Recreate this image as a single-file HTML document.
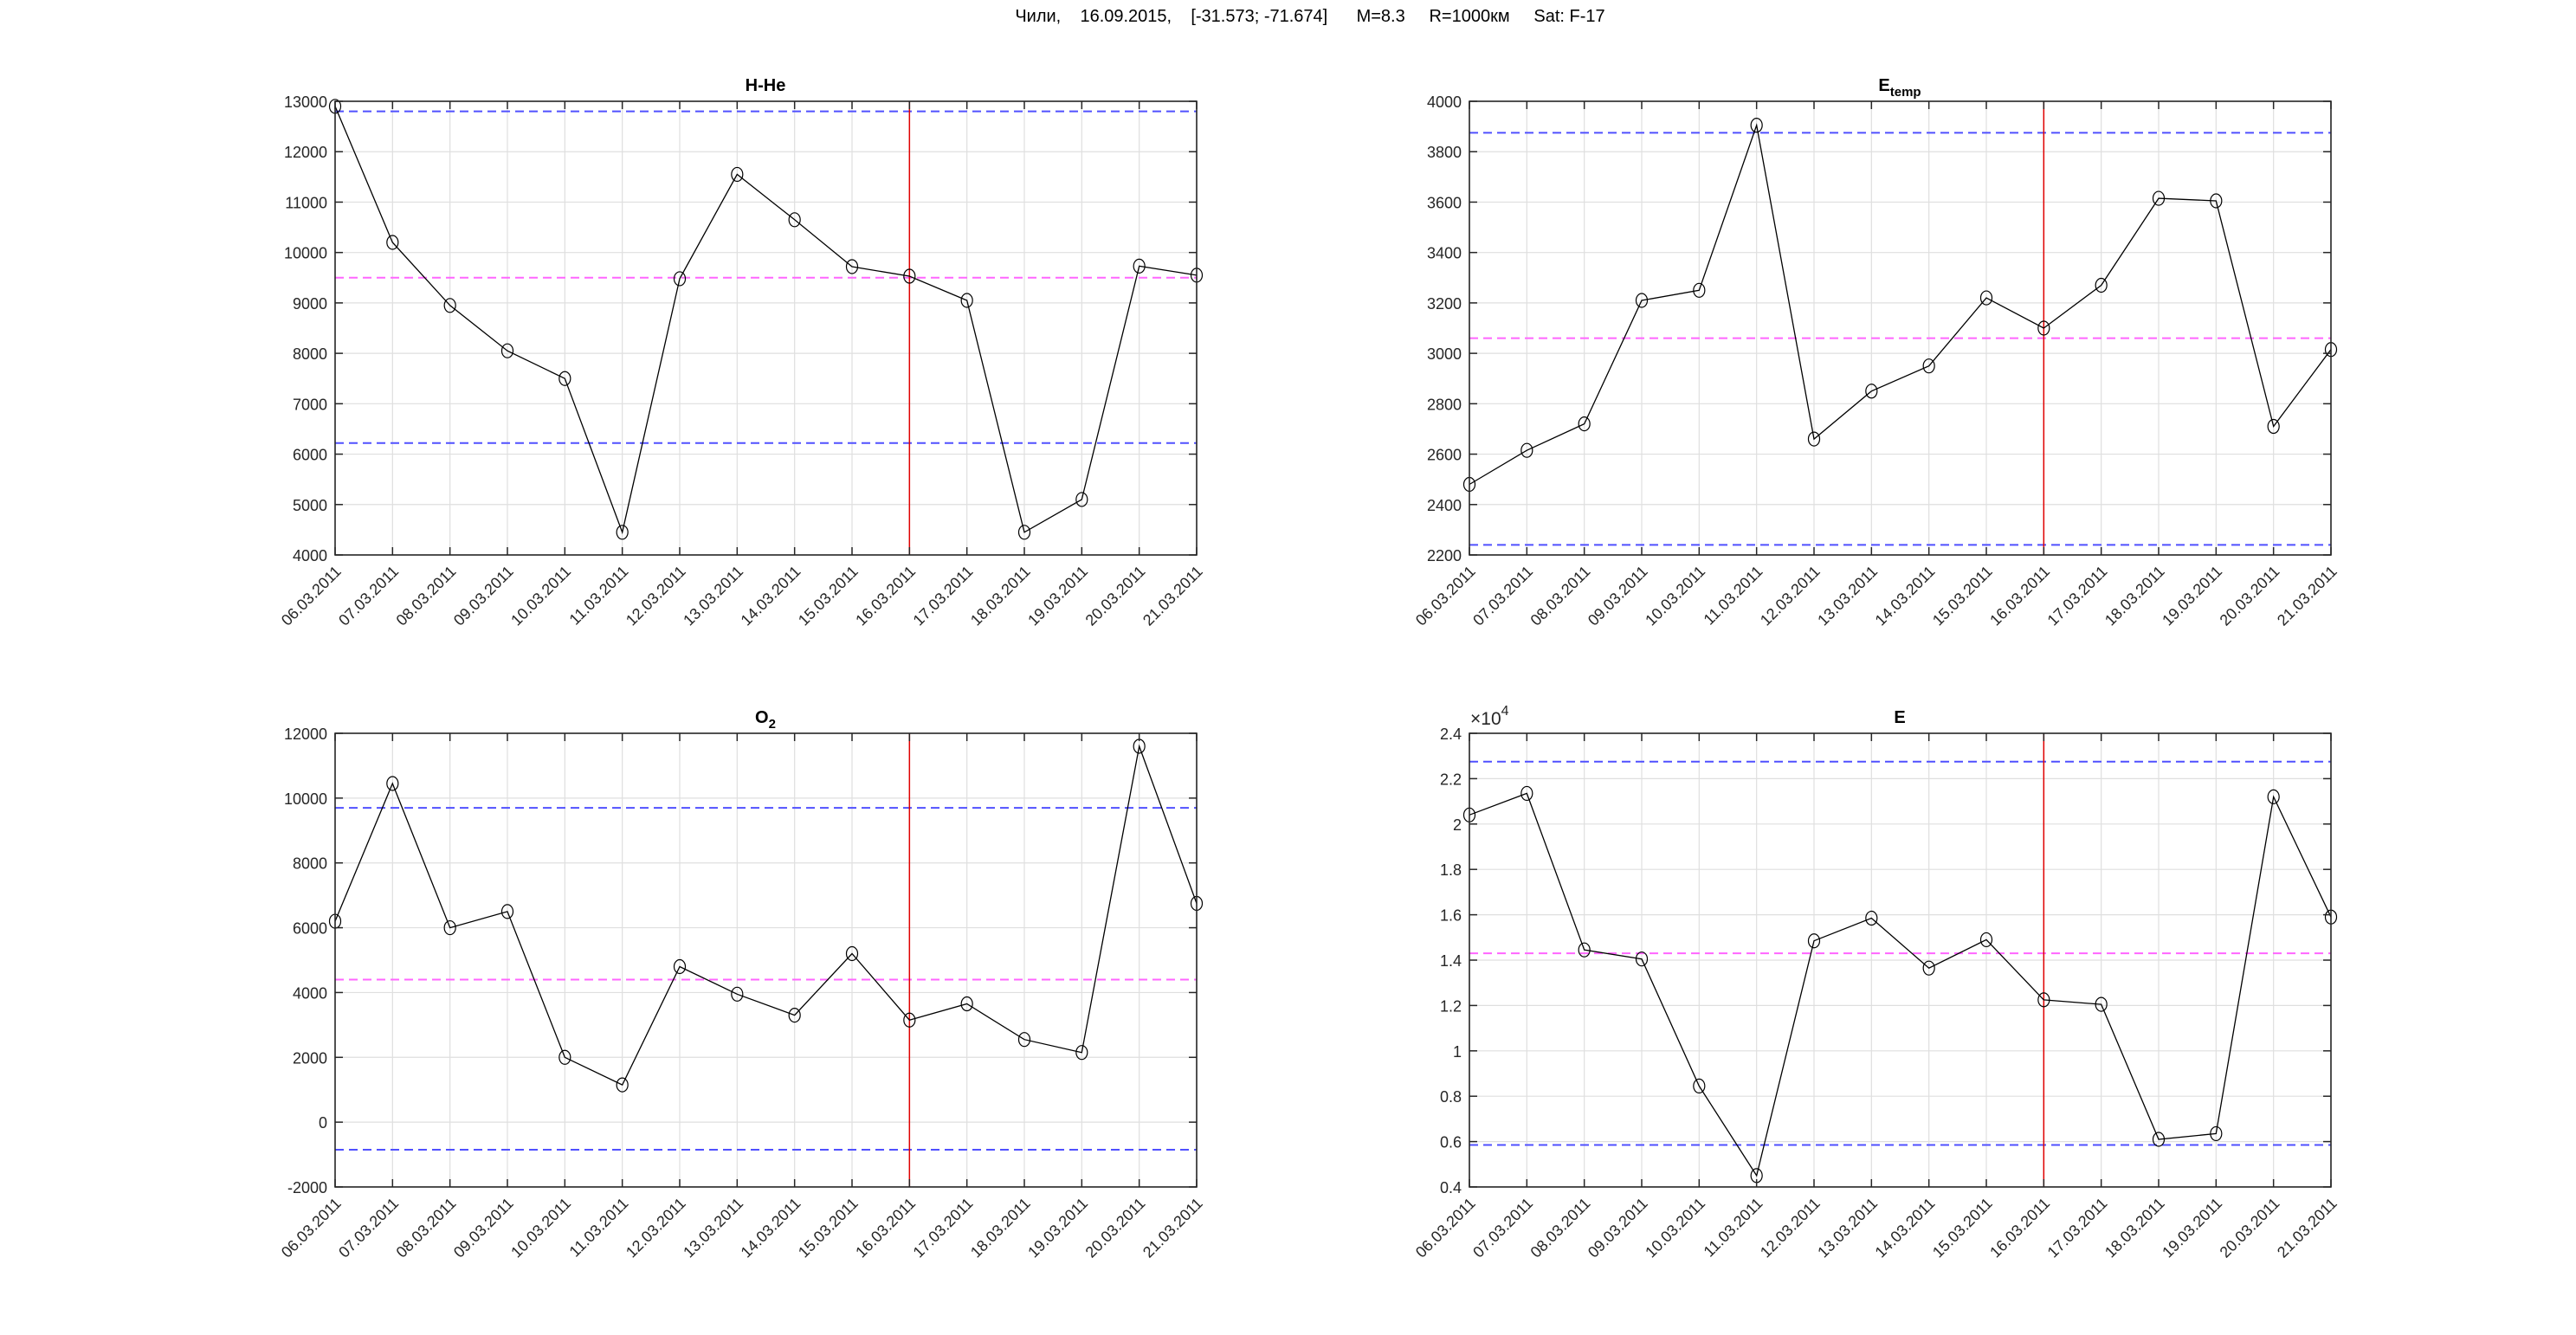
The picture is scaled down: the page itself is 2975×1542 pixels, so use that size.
<!DOCTYPE html>
<html><head><meta charset="utf-8"><style>
html,body{margin:0;padding:0;background:#fff}
svg{display:block}
text{font-family:"Liberation Sans",Arial,sans-serif;fill:#262626}
.yl{font-size:18px;text-anchor:end}
.xl{font-size:18px;text-anchor:end}
.tt{font-size:20px;font-weight:bold;text-anchor:middle;fill:#000}
</style></head><body>
<svg id="s" width="2975" height="1542" viewBox="0 0 2975 1542" xmlns="http://www.w3.org/2000/svg">
<rect width="2975" height="1542" fill="#fff"/>
<text x="1513" y="25" style="font-size:20px;text-anchor:middle;white-space:pre;fill:#000">Чили,    16.09.2015,    [-31.573; -71.674]      M=8.3     R=1000км     Sat: F-17</text>

<!-- Axes 1: H-He -->
<g transform="translate(387,117)">
<g id="a1"></g>
<text class="tt" x="497" y="-12">H-He</text>
<text class="yl" x="-9" y="7">13000</text>
<text class="yl" x="-9" y="65.2">12000</text>
<text class="yl" x="-9" y="123.4">11000</text>
<text class="yl" x="-9" y="181.7">10000</text>
<text class="yl" x="-9" y="239.9">9000</text>
<text class="yl" x="-9" y="298.1">8000</text>
<text class="yl" x="-9" y="356.3">7000</text>
<text class="yl" x="-9" y="414.6">6000</text>
<text class="yl" x="-9" y="472.8">5000</text>
<text class="yl" x="-9" y="531">4000</text>
<g transform="translate(0,524)">
<text class="xl" transform="translate(8,20) rotate(-45)">06.03.2011</text>
<text class="xl" transform="translate(74.3,20) rotate(-45)">07.03.2011</text>
<text class="xl" transform="translate(140.7,20) rotate(-45)">08.03.2011</text>
<text class="xl" transform="translate(207,20) rotate(-45)">09.03.2011</text>
<text class="xl" transform="translate(273.3,20) rotate(-45)">10.03.2011</text>
<text class="xl" transform="translate(339.7,20) rotate(-45)">11.03.2011</text>
<text class="xl" transform="translate(406,20) rotate(-45)">12.03.2011</text>
<text class="xl" transform="translate(472.3,20) rotate(-45)">13.03.2011</text>
<text class="xl" transform="translate(538.7,20) rotate(-45)">14.03.2011</text>
<text class="xl" transform="translate(605,20) rotate(-45)">15.03.2011</text>
<text class="xl" transform="translate(671.3,20) rotate(-45)">16.03.2011</text>
<text class="xl" transform="translate(737.7,20) rotate(-45)">17.03.2011</text>
<text class="xl" transform="translate(804,20) rotate(-45)">18.03.2011</text>
<text class="xl" transform="translate(870.3,20) rotate(-45)">19.03.2011</text>
<text class="xl" transform="translate(936.7,20) rotate(-45)">20.03.2011</text>
<text class="xl" transform="translate(1003,20) rotate(-45)">21.03.2011</text>
</g>
</g>

<!-- Axes 2: Etemp -->
<g transform="translate(1697,117)">
<g id="a2"></g>
<text class="tt" x="497" y="-12">E<tspan dy="6" style="font-size:15px">temp</tspan></text>
<text class="yl" x="-9" y="7">4000</text>
<text class="yl" x="-9" y="65.2">3800</text>
<text class="yl" x="-9" y="123.4">3600</text>
<text class="yl" x="-9" y="181.7">3400</text>
<text class="yl" x="-9" y="239.9">3200</text>
<text class="yl" x="-9" y="298.1">3000</text>
<text class="yl" x="-9" y="356.3">2800</text>
<text class="yl" x="-9" y="414.6">2600</text>
<text class="yl" x="-9" y="472.8">2400</text>
<text class="yl" x="-9" y="531">2200</text>
<g transform="translate(0,524)">
<text class="xl" transform="translate(8,20) rotate(-45)">06.03.2011</text>
<text class="xl" transform="translate(74.3,20) rotate(-45)">07.03.2011</text>
<text class="xl" transform="translate(140.7,20) rotate(-45)">08.03.2011</text>
<text class="xl" transform="translate(207,20) rotate(-45)">09.03.2011</text>
<text class="xl" transform="translate(273.3,20) rotate(-45)">10.03.2011</text>
<text class="xl" transform="translate(339.7,20) rotate(-45)">11.03.2011</text>
<text class="xl" transform="translate(406,20) rotate(-45)">12.03.2011</text>
<text class="xl" transform="translate(472.3,20) rotate(-45)">13.03.2011</text>
<text class="xl" transform="translate(538.7,20) rotate(-45)">14.03.2011</text>
<text class="xl" transform="translate(605,20) rotate(-45)">15.03.2011</text>
<text class="xl" transform="translate(671.3,20) rotate(-45)">16.03.2011</text>
<text class="xl" transform="translate(737.7,20) rotate(-45)">17.03.2011</text>
<text class="xl" transform="translate(804,20) rotate(-45)">18.03.2011</text>
<text class="xl" transform="translate(870.3,20) rotate(-45)">19.03.2011</text>
<text class="xl" transform="translate(936.7,20) rotate(-45)">20.03.2011</text>
<text class="xl" transform="translate(1003,20) rotate(-45)">21.03.2011</text>
</g>
</g>

<!-- Axes 3: O2 -->
<g transform="translate(387,847)">
<g id="a3"></g>
<text class="tt" x="497" y="-12">O<tspan dy="6" style="font-size:15px">2</tspan></text>
<text class="yl" x="-9" y="7">12000</text>
<text class="yl" x="-9" y="81.9">10000</text>
<text class="yl" x="-9" y="156.7">8000</text>
<text class="yl" x="-9" y="231.6">6000</text>
<text class="yl" x="-9" y="306.4">4000</text>
<text class="yl" x="-9" y="381.3">2000</text>
<text class="yl" x="-9" y="456.1">0</text>
<text class="yl" x="-9" y="531">-2000</text>
<g transform="translate(0,524)">
<text class="xl" transform="translate(8,20) rotate(-45)">06.03.2011</text>
<text class="xl" transform="translate(74.3,20) rotate(-45)">07.03.2011</text>
<text class="xl" transform="translate(140.7,20) rotate(-45)">08.03.2011</text>
<text class="xl" transform="translate(207,20) rotate(-45)">09.03.2011</text>
<text class="xl" transform="translate(273.3,20) rotate(-45)">10.03.2011</text>
<text class="xl" transform="translate(339.7,20) rotate(-45)">11.03.2011</text>
<text class="xl" transform="translate(406,20) rotate(-45)">12.03.2011</text>
<text class="xl" transform="translate(472.3,20) rotate(-45)">13.03.2011</text>
<text class="xl" transform="translate(538.7,20) rotate(-45)">14.03.2011</text>
<text class="xl" transform="translate(605,20) rotate(-45)">15.03.2011</text>
<text class="xl" transform="translate(671.3,20) rotate(-45)">16.03.2011</text>
<text class="xl" transform="translate(737.7,20) rotate(-45)">17.03.2011</text>
<text class="xl" transform="translate(804,20) rotate(-45)">18.03.2011</text>
<text class="xl" transform="translate(870.3,20) rotate(-45)">19.03.2011</text>
<text class="xl" transform="translate(936.7,20) rotate(-45)">20.03.2011</text>
<text class="xl" transform="translate(1003,20) rotate(-45)">21.03.2011</text>
</g>
</g>

<!-- Axes 4: E -->
<g transform="translate(1697,847)">
<g id="a4"></g>
<text class="tt" x="497" y="-12">E</text>
<text x="1" y="-10" style="font-size:21px">×10<tspan dy="-11" style="font-size:16px">4</tspan></text>
<text class="yl" x="-9" y="7">2.4</text>
<text class="yl" x="-9" y="59.4">2.2</text>
<text class="yl" x="-9" y="111.8">2</text>
<text class="yl" x="-9" y="164.2">1.8</text>
<text class="yl" x="-9" y="216.6">1.6</text>
<text class="yl" x="-9" y="269">1.4</text>
<text class="yl" x="-9" y="321.4">1.2</text>
<text class="yl" x="-9" y="373.8">1</text>
<text class="yl" x="-9" y="426.2">0.8</text>
<text class="yl" x="-9" y="478.6">0.6</text>
<text class="yl" x="-9" y="531">0.4</text>
<g transform="translate(0,524)">
<text class="xl" transform="translate(8,20) rotate(-45)">06.03.2011</text>
<text class="xl" transform="translate(74.3,20) rotate(-45)">07.03.2011</text>
<text class="xl" transform="translate(140.7,20) rotate(-45)">08.03.2011</text>
<text class="xl" transform="translate(207,20) rotate(-45)">09.03.2011</text>
<text class="xl" transform="translate(273.3,20) rotate(-45)">10.03.2011</text>
<text class="xl" transform="translate(339.7,20) rotate(-45)">11.03.2011</text>
<text class="xl" transform="translate(406,20) rotate(-45)">12.03.2011</text>
<text class="xl" transform="translate(472.3,20) rotate(-45)">13.03.2011</text>
<text class="xl" transform="translate(538.7,20) rotate(-45)">14.03.2011</text>
<text class="xl" transform="translate(605,20) rotate(-45)">15.03.2011</text>
<text class="xl" transform="translate(671.3,20) rotate(-45)">16.03.2011</text>
<text class="xl" transform="translate(737.7,20) rotate(-45)">17.03.2011</text>
<text class="xl" transform="translate(804,20) rotate(-45)">18.03.2011</text>
<text class="xl" transform="translate(870.3,20) rotate(-45)">19.03.2011</text>
<text class="xl" transform="translate(936.7,20) rotate(-45)">20.03.2011</text>
<text class="xl" transform="translate(1003,20) rotate(-45)">21.03.2011</text>
</g>
</g>
</svg>
<script>
(function(){
var NS="http://www.w3.org/2000/svg";
function el(p,n,a){var e=document.createElementNS(NS,n);for(var k in a)e.setAttribute(k,a[k]);p.appendChild(e);return e;}
function draw(id,H,ymin,ymax,step,data,lines){
  var g=document.getElementById(id),W=995,dx=W/15;
  function Y(v){return H-(v-ymin)/(ymax-ymin)*H;}
  var yt=[];for(var v=ymin;v<=ymax+1e-9;v+=step)yt.push(v);
  for(var i=0;i<16;i++){var x=i*dx;el(g,"line",{x1:x,y1:0,x2:x,y2:H,stroke:"#dfdfdf","stroke-width":1.2});}
  yt.forEach(function(v){var y=Y(v);el(g,"line",{x1:0,y1:y,x2:W,y2:y,stroke:"#dfdfdf","stroke-width":1.2});});
  lines.forEach(function(l){var y=Y(l[0]);el(g,"line",{x1:0,y1:y,x2:W,y2:y,stroke:l[1],"stroke-width":2,"stroke-dasharray":"10,6"});});
  el(g,"line",{x1:10*dx,y1:0,x2:10*dx,y2:H,stroke:"#e00000","stroke-width":1.5});
  var d="";data.forEach(function(v,i){d+=(i?"L":"M")+(i*dx).toFixed(1)+","+Y(v).toFixed(1);});
  el(g,"path",{d:d,fill:"none",stroke:"#000","stroke-width":1.3});
  data.forEach(function(v,i){el(g,"ellipse",{cx:i*dx,cy:Y(v),rx:6.5,ry:8,fill:"none",stroke:"#000","stroke-width":1.2});});
  el(g,"rect",{x:0,y:0,width:W,height:H,fill:"none",stroke:"#262626","stroke-width":1.6});
  for(var i=0;i<16;i++){var x=i*dx;el(g,"line",{x1:x,y1:0,x2:x,y2:9,stroke:"#262626","stroke-width":1.5});el(g,"line",{x1:x,y1:H,x2:x,y2:H-9,stroke:"#262626","stroke-width":1.5});}
  yt.forEach(function(v){var y=Y(v);el(g,"line",{x1:0,y1:y,x2:9,y2:y,stroke:"#262626","stroke-width":1.5});el(g,"line",{x1:W,y1:y,x2:W-9,y2:y,stroke:"#262626","stroke-width":1.5});});
}
var B="#5050ff",M="#ff66ff";
draw("a1",524,4000,13000,1000,[12900,10200,8950,8050,7500,4450,9480,11550,10650,9720,9530,9050,4450,5100,9730,9550],[[12800,B],[9500,M],[6220,B]]);
draw("a2",524,2200,4000,200,[2480,2615,2720,3210,3250,3905,2660,2850,2950,3220,3100,3270,3615,3605,2710,3015],[[3875,B],[3060,M],[2240,B]]);
draw("a3",524,-2000,12000,2000,[6200,10450,6000,6500,2000,1150,4800,3950,3300,5200,3150,3650,2550,2150,11600,6750],[[9700,B],[4400,M],[-850,B]]);
draw("a4",524,0.4,2.4,0.2,[2.04,2.135,1.445,1.405,0.845,0.45,1.485,1.585,1.365,1.49,1.225,1.205,0.61,0.635,2.12,1.59],[[2.275,B],[1.43,M],[0.585,B]]);
})();
</script>
</body></html>
